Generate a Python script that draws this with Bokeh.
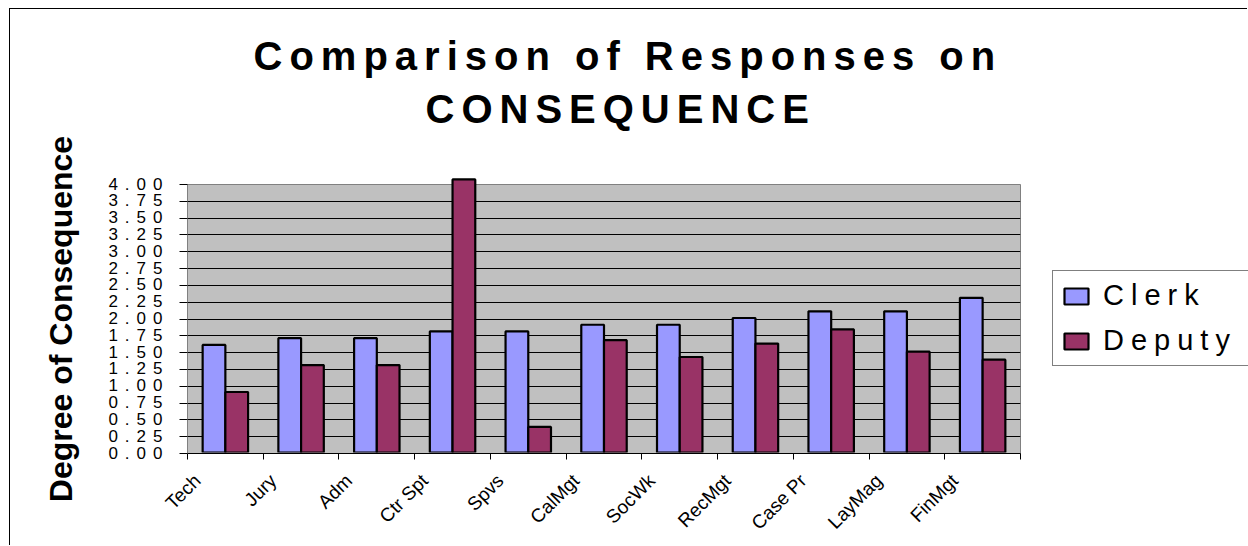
import math
from bokeh.plotting import figure
from bokeh.models import (ColumnDataSource, Range1d, FixedTicker, LinearAxis, Title,
                          NumeralTickFormatter, Legend, LegendItem)
from bokeh.transform import dodge
from bokeh.embed import file_html
from bokeh.resources import INLINE

categories = ["Tech", "Jury", "Adm", "Ctr Spt", "Spvs", "CalMgt", "SocWk",
              "RecMgt", "Case Pr", "LayMag", "FinMgt"]
clerk = [1.6, 1.7, 1.7, 1.8, 1.8, 1.9, 1.9, 2.0, 2.1, 2.1, 2.3]
deputy = [0.9, 1.3, 1.3, 4.06, 0.38, 1.67, 1.42, 1.62, 1.83, 1.5, 1.38]
y_ticks = [i * 0.25 for i in range(17)]
series_names = ["Clerk", "Deputy"]
title_lines = ["Comparison of Responses on", "CONSEQUENCE"]

n = len(categories)
centers = [i + 0.5 for i in range(n)]
src = ColumnDataSource(dict(x=centers, cat=categories, clerk=clerk, deputy=deputy))

# layout constants (pixels)
W, H = 1238, 537
BL, BR, BT, BB = 177, 228, 175, 93          # base frame borders
OT = 125                                      # overlay frame top (room for the title)
Y_MAX = 4.0
# the overlay frame is larger than the base frame; stretch its ranges so both map alike
ov_ymax = Y_MAX * (H - BB - OT) / (H - BB - BT)
ov_xmax = n * (W - BL) / (W - BL - BR)
FONT = "Liberation Sans"

# ---------------- base figure: plot area, grid, axes (unspaced texts) -------------
base = figure(width=W, height=H, title=None, x_range=Range1d(0, n), y_range=Range1d(0, Y_MAX),
              output_backend="svg", toolbar_location=None,
              min_border_left=BL, min_border_right=BR, min_border_top=BT, min_border_bottom=BB,
              background_fill_color="#C0C0C0", border_fill_color="white",
              x_axis_location=None, margin=(8, 0, 0, 9))
base.styles = {"border-top": "1px solid #000", "border-left": "1px solid #000"}
base.outline_line_color = "#808080"
base.xgrid.grid_line_color = None
base.ygrid.ticker = FixedTicker(ticks=y_ticks)
base.ygrid.grid_line_color = "#000000"

yax = base.yaxis[0]
yax.ticker = FixedTicker(ticks=y_ticks)
yax.formatter = NumeralTickFormatter(format="0.00")
yax.axis_line_color = "#808080"
yax.major_tick_line_color = "black"
yax.major_tick_out = 8
yax.major_tick_in = 0
yax.minor_tick_line_color = None
yax.major_label_text_font = FONT
yax.major_label_text_font_size = "18px"
yax.major_label_text_color = None
yax.major_label_standoff = 12
yax.axis_label = "Degree of Consequence"
yax.axis_label_text_font = FONT
yax.axis_label_text_font_size = "32px"
yax.axis_label_text_font_style = "bold"
yax.axis_label_text_color = "black"
yax.axis_label_standoff = 101

label_pos = [c - 0.37 for c in centers]
xax = LinearAxis(ticker=FixedTicker(ticks=label_pos, minor_ticks=list(range(n + 1))),
                 major_label_overrides={c: name for c, name in zip(label_pos, categories)},
                 major_tick_out=0, major_tick_in=0,
                 minor_tick_out=6, minor_tick_in=0, minor_tick_line_color="black",
                 axis_line_color="black",
                 major_label_orientation=math.pi / 4,
                 major_label_text_font=FONT,
                 major_label_text_font_size="19px",
                 major_label_text_color="black",
                 major_label_standoff=18)
base.add_layout(xax, "below")

# ---------------- overlay figure: bars, title, tick labels, legend (spaced texts) ---
ov = figure(width=W, height=H, title=None, x_range=Range1d(0, ov_xmax), y_range=Range1d(0, ov_ymax),
            output_backend="svg", toolbar_location=None,
            min_border_left=BL, min_border_right=0, min_border_top=OT, min_border_bottom=BB,
            background_fill_alpha=0, border_fill_alpha=0,
            x_axis_location=None, margin=(-H, 0, 0, 10))
ov.styles = {"letter-spacing": "7px"}
ov.outline_line_color = None
ov.xgrid.grid_line_color = None
ov.ygrid.grid_line_color = None

oyax = ov.yaxis[0]
oyax.ticker = FixedTicker(ticks=y_ticks)
oyax.formatter = NumeralTickFormatter(format="0.00")
oyax.axis_line_color = None
oyax.major_tick_line_color = None
oyax.major_tick_out = 0
oyax.major_tick_in = 0
oyax.minor_tick_line_color = None
oyax.major_label_text_font = FONT
oyax.major_label_text_font_size = "17px"
oyax.major_label_text_color = "black"
oyax.major_label_standoff = 46

ov.add_layout(Title(text=title_lines[1], align="left", offset=238, standoff=6,
                    text_font=FONT, text_font_size="40px", text_font_style="bold",
                    text_color="black"), "above")
ov.add_layout(Title(text=title_lines[0], align="left", offset=66, standoff=7,
                    text_font=FONT, text_font_size="40px", text_font_style="bold",
                    text_color="black"), "above")

r1 = ov.vbar(x=dodge("x", -0.15), top="clerk", width=0.3, source=src,
             fill_color="#9999FF", line_color="black", line_width=2.2)
r2 = ov.vbar(x=dodge("x", 0.15), top="deputy", width=0.3, source=src,
             fill_color="#993366", line_color="black", line_width=2.2)

legend = Legend(items=[LegendItem(label=series_names[0], renderers=[r1]),
                       LegendItem(label=series_names[1], renderers=[r2])],
                location=(865, 86), orientation="vertical",
                glyph_width=30, glyph_height=20, label_standoff=12, label_width=150,
                padding=8, spacing=12, margin=0,
                label_text_font=FONT, label_text_font_size="29px",
                label_text_color="black",
                border_line_color="black", border_line_width=1,
                background_fill_color="white", background_fill_alpha=1.0)
ov.add_layout(legend, "center")

open("out.html", "w").write(file_html([base, ov], INLINE))
